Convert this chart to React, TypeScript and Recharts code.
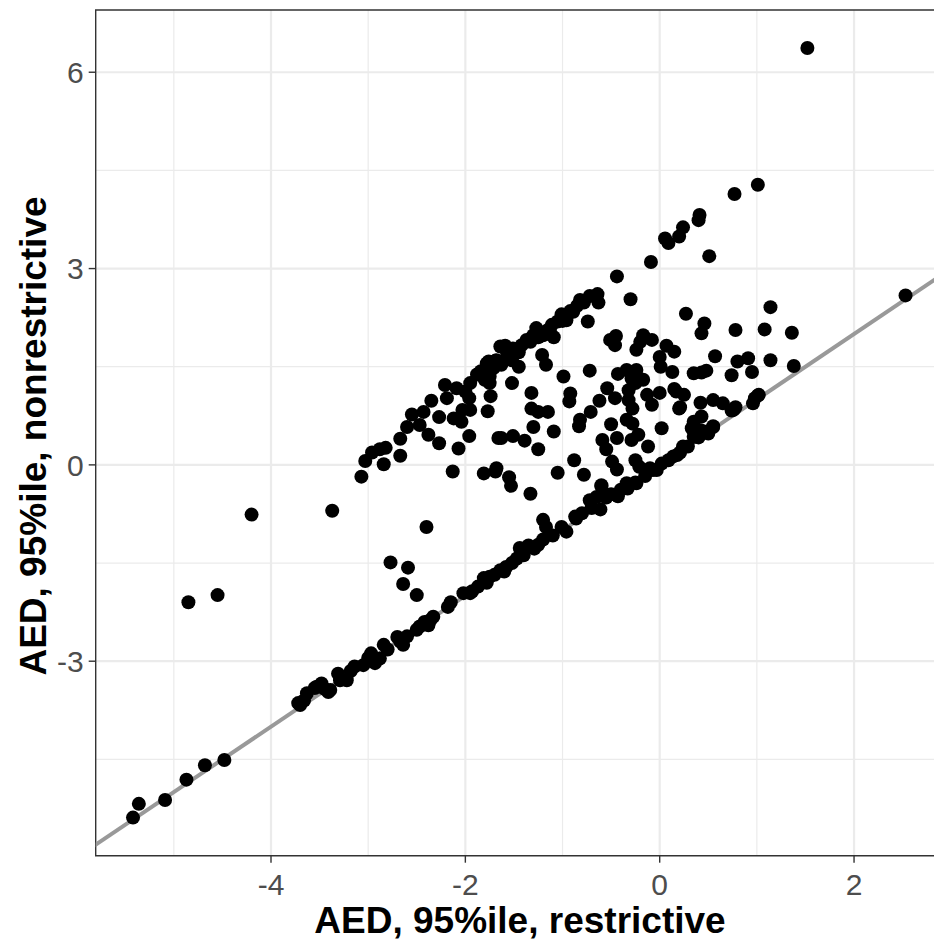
import React from "react";
import {
  CartesianGrid,
  ReferenceArea,
  ReferenceLine,
  Scatter,
  ScatterChart,
  XAxis,
  YAxis,
} from "recharts";

// points lying on / near the identity line
const diagonalPoints: [number, number][] = [
  [-5.42, -5.39], [-5.36, -5.18], [-5.09, -5.12], [-4.87, -4.81], [-4.68, -4.59], [-4.48, -4.51],
  [-3.72, -3.64], [-3.7, -3.67], [-3.66, -3.6], [-3.63, -3.49], [-3.55, -3.41], [-3.53, -3.39],
  [-3.48, -3.34], [-3.45, -3.42], [-3.41, -3.47], [-3.39, -3.44], [-3.31, -3.19], [-3.29, -3.29],
  [-3.22, -3.29], [-3.18, -3.15], [-3.14, -3.08], [-3.05, -3.06], [-3.0, -2.95], [-2.97, -2.88],
  [-2.93, -3.03], [-2.88, -2.96], [-2.84, -2.75], [-2.8, -2.82], [-2.7, -2.63], [-2.67, -2.7],
  [-2.64, -2.75], [-2.6, -2.62], [-2.5, -2.52], [-2.47, -2.47], [-2.42, -2.4], [-2.38, -2.45],
  [-2.36, -2.37], [-2.33, -2.32], [-2.18, -2.17], [-2.15, -2.1], [-2.02, -1.96], [-1.95, -1.96],
  [-1.93, -1.93], [-1.87, -1.86], [-1.81, -1.73], [-1.78, -1.8], [-1.75, -1.71], [-1.7, -1.68],
  [-1.64, -1.61], [-1.6, -1.63], [-1.58, -1.56], [-1.52, -1.5], [-1.47, -1.43], [-1.44, -1.27],
  [-1.4, -1.38], [-1.35, -1.23], [-1.29, -1.28], [-1.25, -1.22], [-1.2, -1.14], [-1.2, -0.84],
  [-1.17, -0.95], [-1.1, -1.08], [-1.01, -0.95], [-0.96, -1.02], [-0.87, -0.79], [-0.86, -0.82],
  [-0.8, -0.74], [-0.72, -0.54], [-0.7, -0.66], [-0.65, -0.49], [-0.61, -0.68], [-0.6, -0.33],
  [-0.55, -0.5], [-0.5, -0.45], [-0.43, -0.48], [-0.4, -0.38], [-0.34, -0.28], [-0.33, -0.36],
  [-0.25, -0.27], [-0.24, -0.28], [-0.15, -0.17], [-0.1, -0.05], [-0.07, -0.08], [-0.03, -0.08],
  [0.02, 0.02], [0.09, 0.07], [0.14, 0.13], [0.18, 0.15], [0.21, 0.19], [0.24, 0.28],
  [0.29, 0.28], [0.35, 0.43], [0.4, 0.42], [0.42, 0.53], [0.46, 0.51], [0.5, 0.48],
  [0.55, 0.59], [0.74, 0.83], [0.98, 1.02], [1.01, 1.06],
];

// dense upper band
const bandPoints: [number, number][] = [
  [-3.07, -0.18], [-3.03, 0.06], [-2.96, 0.19], [-2.88, 0.24], [-2.82, 0.26], [-2.84, 0.01],
  [-2.67, 0.14], [-2.67, 0.4], [-2.6, 0.58], [-2.55, 0.77], [-2.47, 0.61], [-2.43, 0.81],
  [-2.38, 0.46], [-2.35, 0.98], [-2.27, 0.33], [-2.27, 0.73], [-2.21, 1.22], [-2.19, 1.02],
  [-2.12, 0.71], [-2.09, 1.17], [-2.04, 0.66], [-2.03, 0.84], [-2.0, 1.12], [-1.96, 1.02],
  [-1.95, 1.25], [-1.95, 0.84], [-1.88, 1.38], [-1.84, 1.43], [-1.8, 1.45], [-1.8, 1.3],
  [-1.78, 1.55], [-1.76, 1.58], [-1.75, 1.35], [-1.75, 1.25], [-1.71, 1.48], [-1.69, 1.59],
  [-1.68, 1.6], [-1.64, 1.81], [-1.63, 1.53], [-1.59, 1.82], [-1.58, 1.62], [-1.57, 1.71],
  [-1.52, 1.6], [-1.52, 1.25], [-1.51, 1.78], [-1.45, 1.5], [-1.45, 1.72], [-1.42, 1.83],
  [-1.37, 1.91], [-1.33, 1.88], [-1.3, 1.98], [-1.27, 2.09], [-1.25, 1.95], [-1.21, 1.68],
  [-1.2, 1.98], [-1.17, 1.53], [-1.15, 2.06], [-1.12, 2.0], [-1.11, 2.14], [-1.09, 1.95],
  [-1.05, 2.19], [-1.01, 2.3], [-1.0, 2.2], [-0.96, 2.21], [-0.92, 2.35], [-0.89, 2.34],
  [-0.85, 2.43], [-0.82, 2.52], [-0.78, 2.48], [-0.74, 2.19], [-0.72, 2.58], [-0.64, 2.61],
  [-0.63, 2.48],
];

// scattered cloud between band and diagonal
const cloudPoints: [number, number][] = [
  [-2.07, 0.25], [-2.13, -0.1], [-1.96, 0.44], [-1.77, 0.82], [-1.74, 1.05], [-1.66, 0.41],
  [-1.81, -0.13], [-1.69, -0.1], [-1.68, -0.05], [-1.55, -0.19], [-1.53, -0.32], [-1.33, -0.44],
  [-1.63, 0.41], [-1.51, 0.44], [-1.39, 0.37], [-1.25, 0.24], [-1.32, 1.1], [-1.32, 0.86],
  [-1.25, 0.81], [-1.15, 0.81], [-1.3, 0.58], [-1.09, 0.51], [-1.05, -0.12], [-0.99, 1.35],
  [-0.92, 1.09], [-0.93, 0.97], [-0.88, 0.07], [-0.83, 0.59], [-0.82, 0.69], [-0.78, -0.15],
  [-0.72, 1.44], [-0.71, 0.81], [-0.62, 0.98], [-0.6, -0.31], [-0.59, 0.38], [-0.55, 0.24],
  [-0.54, 1.17], [-0.51, 1.91], [-0.5, 0.62], [-0.49, 0.05], [-0.46, 1.02], [-0.46, 1.83],
  [-0.45, 1.97], [-0.44, 0.41], [-0.44, -0.07], [-0.43, 1.39], [-0.34, 1.45], [-0.34, 0.69],
  [-0.32, 1.14], [-0.32, 0.99], [-0.29, 1.32], [-0.29, 0.38], [-0.28, 0.86], [-0.28, 0.63],
  [-0.25, 1.25], [-0.25, 0.07], [-0.24, 1.45], [-0.24, 1.76], [-0.22, 0.46], [-0.21, -0.03],
  [-0.2, 1.88], [-0.17, 1.3], [-0.17, 1.98], [-0.13, 1.07], [-0.12, 0.28], [-0.08, 1.91],
  [-0.08, 0.92], [0.0, 1.1], [0.0, 1.65], [0.01, 1.5], [0.02, 0.56], [0.07, 1.82],
  [0.13, 1.42], [0.15, 1.73], [0.15, 1.16], [0.17, 1.12], [0.2, 0.86], [0.21, 0.88],
  [0.25, 1.07], [0.27, 2.31], [0.33, 0.56], [0.35, 1.4], [0.35, 0.66], [0.38, 0.43],
  [0.42, 0.95], [0.43, 1.41], [0.43, 2.01], [0.43, 0.74], [0.46, 2.16], [0.48, 1.44],
  [0.55, 0.99], [0.55, 0.58], [0.57, 1.66], [0.65, 0.94], [0.74, 1.37], [0.76, 0.84],
  [0.78, 2.06], [0.78, 0.88], [0.8, 1.58], [0.91, 1.63], [0.95, 1.42], [0.96, 0.94],
  [1.02, 1.07], [1.08, 2.07], [1.14, 2.41], [1.14, 1.6], [1.36, 2.02], [1.38, 1.51],
];

const outlierPoints: [number, number][] = [
  [1.52, 6.37], [1.01, 4.28], [0.77, 4.14], [0.41, 3.82], [0.4, 3.74], [0.24, 3.63],
  [0.2, 3.49], [0.09, 3.39], [0.055, 3.46], [-0.09, 3.1], [0.51, 3.19], [-0.44, 2.88],
  [-0.3, 2.53], [2.53, 2.59], [-4.2, -0.76], [-3.37, -0.7], [-4.85, -2.1], [-4.55, -1.99],
  [-2.4, -0.95], [-2.77, -1.49], [-2.59, -1.57], [-2.64, -1.82], [-2.5, -1.99],
];

const xTicks = [-4, -2, 0, 2];
const yTicks = [-3, 0, 3, 6];
const xMinor = [-5, -3, -1, 1];
const yMinor = [-4.5, -1.5, 1.5, 4.5];
const xDomain: [number, number] = [-5.804, 2.9];
const yDomain: [number, number] = [-5.972, 6.951];

const data = [...diagonalPoints, ...bandPoints, ...cloudPoints, ...outlierPoints].map(
  ([x, y]) => ({ x, y })
);

const FONT = "'Liberation Sans', Arial, sans-serif";

const Dot = (props: any) => <circle cx={props.cx} cy={props.cy} r={7} fill="#000000" />;

const XTick = (props: any) => (
  <text
    x={props.x}
    y={props.y}
    dy="0.71em"
    textAnchor="middle"
    fill="#4D4D4D"
    fontSize={30}
    fontFamily={FONT}
  >
    {props.payload.value}
  </text>
);

const YTick = (props: any) => (
  <text
    x={props.x}
    y={props.y}
    dy="0.36em"
    textAnchor="end"
    fill="#4D4D4D"
    fontSize={30}
    fontFamily={FONT}
  >
    {props.payload.value}
  </text>
);

export default function App() {
  return (
    <div
      style={{
        position: "fixed",
        left: 0,
        top: 0,
        width: 934,
        height: 940,
        overflow: "hidden",
        background: "#ffffff",
        fontFamily: FONT,
      }}
    >
      <ScatterChart
        width={960}
        height={940}
        margin={{ top: 10, right: 18.5, bottom: 44.3, left: 35.7 }}
        style={{ fontFamily: FONT }}
      >
        <CartesianGrid
          stroke="#EBEBEB"
          strokeWidth={1.2}
          verticalValues={xMinor}
          horizontalValues={yMinor}
        />
        <CartesianGrid
          stroke="#EBEBEB"
          strokeWidth={2.2}
          verticalValues={xTicks}
          horizontalValues={yTicks}
        />
        <XAxis
          type="number"
          dataKey="x"
          domain={xDomain}
          ticks={xTicks}
          interval={0}
          allowDataOverflow
          height={40}
          tickSize={7}
          tickMargin={11}
          axisLine={false}
          tickLine={{ stroke: "#333333", strokeWidth: 1.4 }}
          tick={<XTick />}
        />
        <YAxis
          type="number"
          dataKey="y"
          domain={yDomain}
          ticks={yTicks}
          interval={0}
          allowDataOverflow
          width={60}
          tickSize={7}
          tickMargin={5}
          axisLine={false}
          tickLine={{ stroke: "#333333", strokeWidth: 1.4 }}
          tick={<YTick />}
        />
        <Scatter data={data} shape={Dot} isAnimationActive={false} />
        <ReferenceLine
          segment={[
            { x: -7, y: -7 },
            { x: 4, y: 4 },
          ]}
          stroke="#999999"
          strokeWidth={4}
          ifOverflow="hidden"
        />
        <ReferenceArea
          x1={xDomain[0]}
          x2={xDomain[1]}
          y1={yDomain[0]}
          y2={yDomain[1]}
          fill="none"
          fillOpacity={0}
          stroke="#333333"
          strokeWidth={1.4}
          ifOverflow="visible"
        />
      </ScatterChart>
      <svg
        width={934}
        height={940}
        style={{ position: "absolute", left: 0, top: 0, pointerEvents: "none" }}
      >
        <text
          x={520}
          y={933}
          textAnchor="middle"
          fontFamily={FONT}
          fontWeight="bold"
          fontSize={37}
          fill="#000000"
        >
          AED, 95%ile, restrictive
        </text>
        <text
          transform="translate(46, 436) rotate(-90)"
          textAnchor="middle"
          fontFamily={FONT}
          fontWeight="bold"
          fontSize={37}
          fill="#000000"
        >
          AED, 95%ile, nonrestrictive
        </text>
      </svg>
    </div>
  );
}
